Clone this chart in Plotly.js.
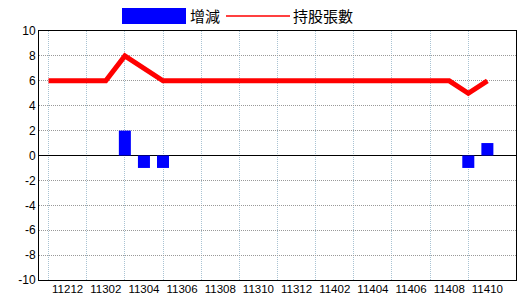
<!DOCTYPE html>
<html>
<head>
<meta charset="utf-8">
<script src="https://cdn.plot.ly/plotly-3.0.1.min.js"></script>
<style>html,body{margin:0;padding:0;background:#fff;}#chart{width:520px;height:300px;}</style>
</head>
<body>
<div id="chart"></div>
<script>
const months = ['11211','11212','11301','11302','11303','11304','11305','11306','11307','11308','11309','11310','11311','11312','11401','11402','11403','11404','11405','11406','11407','11408','11409','11410'];
const changes = [0,0,0,0,2,-1,-1,0,0,0,0,0,0,0,0,0,0,0,0,0,0,0,-1,1];
const holdings = [6,6,6,6,8,7,6,6,6,6,6,6,6,6,6,6,6,6,6,6,6,6,5,6];
const labelMonths = months.filter((m,i)=>i%2===1);
const gridMonths = months.filter((m,i)=>i%2===0);
const yTicks = [-10,-8,-6,-4,-2,0,2,4,6,8,10];
const yTickText = yTicks.map(v=>String(v));
const seriesNames = ['增減','持股張數'];

const numFont = {family:'"Liberation Sans",Arial,sans-serif', size:11.5, color:'#000'};
const yFont = {family:'"Liberation Sans",Arial,sans-serif', size:12, color:'#000'};
const cjkFont = {family:'"Noto Sans CJK TC","Noto Sans CJK SC",sans-serif', size:15, color:'#000'};

const traces = [
  {type:'bar', x:months, y:changes, name:seriesNames[0], marker:{color:'#0000ff'}, width:0.63, xaxis:'x', yaxis:'y', hoverinfo:'x+y'},
  {type:'scatter', mode:'lines', x:months, y:holdings, name:seriesNames[1], line:{color:'#ff0000', width:5}, xaxis:'x2', yaxis:'y'}
];

const L = 39, R = 516, T = 31, B = 280;
const px = v => (v - L)/(R - L);
const py = v => (B - v)/(B - T);

const layout = {
  width:520, height:300,
  margin:{l:L, r:520-R, t:T, b:300-B, pad:0},
  paper_bgcolor:'#fff', plot_bgcolor:'#fff',
  showlegend:false,
  bargap:0.37,
  xaxis:{type:'category', categoryarray:months, categoryorder:'array', range:[-0.5,24.5],
    tickvals:gridMonths, ticktext:gridMonths.map(()=>''), showgrid:true, gridcolor:'#a9c3d3', griddash:'1px,1px', gridwidth:1,
    ticks:'', showline:true, linecolor:'#000', linewidth:1, mirror:true, zeroline:false, fixedrange:true},
  xaxis2:{type:'category', categoryarray:months, categoryorder:'array', range:[-0.5,24.5], overlaying:'x', anchor:'y', side:'bottom',
    tickvals:labelMonths, ticktext:labelMonths, tickangle:0, showgrid:false, ticks:'', showline:false, zeroline:false, tickfont:numFont, fixedrange:true},
  yaxis:{range:[-10,10], tickvals:yTicks, ticktext:yTickText, showgrid:true, gridcolor:'#999', griddash:'1px,1px', gridwidth:1,
    zeroline:true, zerolinecolor:'#000', zerolinewidth:1.5, ticks:'', showline:true, linecolor:'#000', linewidth:1, mirror:true,
    tickfont:yFont, fixedrange:true},
  shapes:[
    {type:'rect', xref:'paper', yref:'paper', x0:px(122), x1:px(186), y0:py(24), y1:py(8), fillcolor:'#0000ff', line:{width:0}},
    {type:'line', xref:'paper', yref:'paper', x0:px(226), x1:px(290), y0:py(16), y1:py(16), line:{color:'#ff0000', width:1.5}}
  ],
  annotations:[
    {xref:'paper', yref:'paper', x:px(188), y:py(16), xanchor:'left', yanchor:'middle', text:seriesNames[0], showarrow:false, font:cjkFont},
    {xref:'paper', yref:'paper', x:px(291), y:py(16), xanchor:'left', yanchor:'middle', text:seriesNames[1], showarrow:false, font:cjkFont}
  ]
};
Plotly.newPlot('chart', traces, layout, {displayModeBar:false, staticPlot:true});
</script>
</body>
</html>
